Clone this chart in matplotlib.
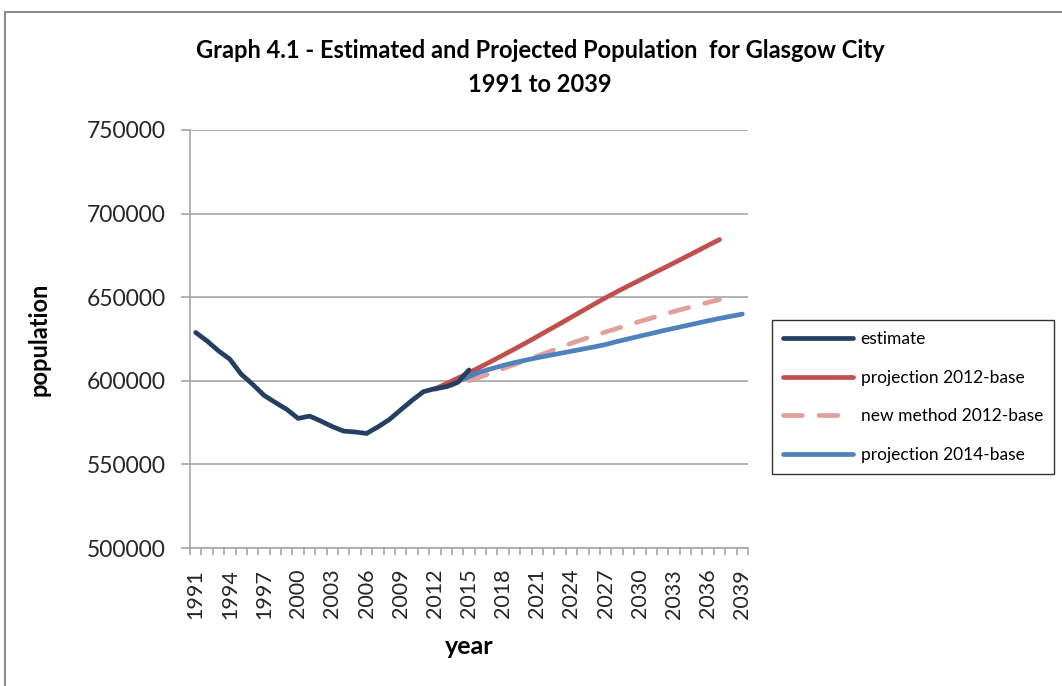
import numpy as np
import matplotlib
matplotlib.use("Agg")
import matplotlib.pyplot as plt
from matplotlib.patches import Rectangle

plt.rcParams['font.family'] = ['Lato', 'DejaVu Sans']

# Mid-year population estimates, 1991-2015
est_years = list(range(1991, 2016))
est_pop = [628900, 623800, 617900, 612900, 603900, 597900, 591300, 587000,
           582900, 577500, 578900, 575900, 572600, 569900, 569400, 568500,
           572400, 576800, 582600, 588300, 593500, 595300, 596500, 599000,
           606500]

# 2012-based projection, 2012-2037
p12_years = list(range(2012, 2038))
p12_pop = [595000, 598300, 601500, 604800, 608300, 611800, 615400, 619000,
           622700, 626500, 630400, 634200, 638100, 642000, 645900, 649700,
           653300, 656800, 660200, 663700, 667100, 670500, 674000, 677500,
           681000, 684500]

# 2012-based, new method, 2012-2037
nm12_years = list(range(2012, 2038))
nm12_pop = [595000, 596500, 598200, 600000, 602300, 604800, 607300, 609800,
            612300, 614800, 617300, 619800, 622500, 624800, 627000, 629200,
            631300, 633400, 635500, 637500, 639500, 641500, 643300, 645100,
            646900, 648600]

# 2014-based projection, 2014-2039
p14_years = list(range(2014, 2040))
p14_pop = [599500, 602500, 605300, 607300, 609200, 610900, 612400, 613800,
           615100, 616400, 617700, 619000, 620300, 621700, 623500, 625100,
           626700, 628300, 629900, 631400, 632900, 634400, 635900, 637300,
           638600, 639900]

yticks = [500000, 550000, 600000, 650000, 700000, 750000]
xlabel_years = list(range(1991, 2040, 3))

fig = plt.figure(figsize=(10.62, 6.86), dpi=100)

# chart area border (top and left edges visible)
fig.patches.append(Rectangle((5 / 1062, -0.1), 1.2, 1 - 12 / 686 + 0.1,
                             transform=fig.transFigure, fill=False,
                             edgecolor='#8c8c8c', linewidth=1.5))

ax = fig.add_axes([190 / 1062, 1 - 548 / 686, 558 / 1062, 418 / 686])

ax.plot(est_years, est_pop, color='#243f60', lw=3.4, solid_capstyle='round',
        label='estimate', zorder=5)
ax.plot(p12_years, p12_pop, color='#c0504d', lw=3.4, solid_capstyle='round',
        label='projection 2012-base', zorder=3)
ax.plot(nm12_years, nm12_pop, color='#e0a09e', lw=3.4, dashes=(4, 3.5),
        dash_capstyle='round', label='new method 2012-base', zorder=2)
ax.plot(p14_years, p14_pop, color='#4f81bd', lw=3.4, solid_capstyle='round',
        label='projection 2014-base', zorder=4)

ax.set_xlim(1990.5, 2039.5)
ax.set_ylim(500000, 750000)
ax.set_yticks(yticks)
ax.set_yticklabels([str(v) for v in yticks])
ax.set_xticks(xlabel_years)
ax.set_xticklabels([str(y) for y in xlabel_years], rotation=90)
ax.set_xticks(np.arange(1990.5, 2040, 1), minor=True)

ax.grid(axis='y', color='#a6a6a6', linewidth=1.2)
ax.set_axisbelow(True)
for side in ['top', 'right']:
    ax.spines[side].set_visible(False)
for side in ['left', 'bottom']:
    ax.spines[side].set_color('#a6a6a6')
    ax.spines[side].set_linewidth(1.2)

ax.tick_params(axis='y', length=6.5, color='#a6a6a6', width=1.2, pad=11,
               labelsize=16.5, labelcolor='#262626')
ax.tick_params(axis='x', which='major', length=0, pad=15, labelsize=15.5,
               labelcolor='#262626')
ax.tick_params(axis='x', which='minor', length=5, color='#a6a6a6', width=1.2)

ax.set_ylabel('population', fontsize=17, fontweight='bold', labelpad=26)
ax.set_xlabel('year', fontsize=18, fontweight='bold', labelpad=12)

fig.text(540 / 1062, 1 - 50 / 686, 'Graph 4.1 - Estimated and Projected Population  for Glasgow City',
         ha='center', va='center', fontsize=17, fontweight='bold')
fig.text(540 / 1062, 1 - 84 / 686, '1991 to 2039',
         ha='center', va='center', fontsize=17, fontweight='bold')

leg = fig.legend(loc='upper left', bbox_to_anchor=(772 / 1062, 1 - 320 / 686),
                 bbox_transform=fig.transFigure, fontsize=12.5, frameon=True,
                 fancybox=False, handlelength=4.0, labelspacing=1.3,
                 borderpad=0.65, handletextpad=0.45, borderaxespad=0)
leg.get_frame().set_edgecolor('black')
leg.get_frame().set_linewidth(1.0)

fig.savefig('out.png', dpi=100)
